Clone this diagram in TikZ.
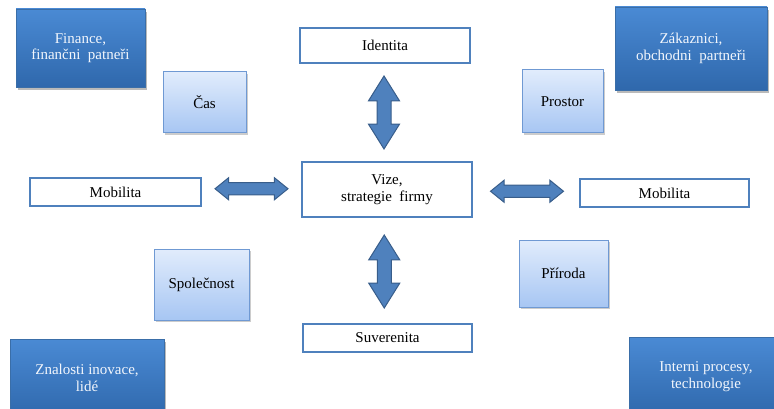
\documentclass[tikz,border=0pt]{standalone}
\usepackage{fontspec}
\setmainfont{Liberation Serif}
\usetikzlibrary{shapes.arrows,shadows,calc}
\definecolor{darkA}{HTML}{4A8AD4}
\definecolor{darkB}{HTML}{2F68AC}
\definecolor{darkE}{HTML}{3A6EA8}
\definecolor{lightA}{HTML}{E1ECFC}
\definecolor{lightB}{HTML}{A7C6F3}
\definecolor{lightE}{HTML}{6F99D3}
\definecolor{frameB}{HTML}{4F81BD}
\definecolor{arrF}{HTML}{4F81BD}
\definecolor{arrE}{HTML}{385D8A}
\definecolor{txtW}{HTML}{F2F6FC}
\begin{document}
\begin{tikzpicture}[x=1pt,y=-1pt,
  every node/.style={font=\rmfamily\fontsize{15}{16.5}\selectfont, align=center, inner sep=0pt},
  darkbox/.style={rectangle, draw=darkE, line width=0.6pt, top color=darkA, bottom color=darkB,
     text=txtW, drop shadow={shadow xshift=2pt, shadow yshift=-3pt, fill=black!45, opacity=0.6}},
  lightbox/.style={rectangle, draw=lightE, line width=1pt, top color=lightA, bottom color=lightB,
     drop shadow={shadow xshift=1.5pt, shadow yshift=-2pt, fill=black!40, opacity=0.5}},
  framebox/.style={rectangle, draw=frameB, line width=2pt, fill=white},
  vfat/.style={double arrow, draw=arrE, fill=arrF, line width=1pt, minimum height=73pt,
     inner xsep=0pt, inner ysep=6.5pt, double arrow head extend=8.5pt, double arrow tip angle=64,
     rotate=90},
  hfat/.style={double arrow, draw=arrE, fill=arrF, line width=1pt, minimum height=73pt,
     inner xsep=0pt, inner ysep=5.5pt, double arrow head extend=5pt, double arrow tip angle=78}
]
\useasboundingbox (0,0) rectangle (774,409);

% dark corner boxes
\node[darkbox, minimum width=129pt, minimum height=78pt] (fin) at (80.5,48) {Finance,\\finančni \ patneři};
\node[darkbox, minimum width=152pt, minimum height=83pt] (zak) at (691,48.5) {Zákaznici,\\obchodni \ partneři};
\node[darkbox, minimum width=154pt, minimum height=78pt] (zna) at (87,378) {Znalosti inovace,\\lidé};
\node[darkbox, minimum width=154pt, minimum height=78pt] (int) at (706,376.5) {Interni procesy,\\technologie};

% light boxes
\node[lightbox, minimum width=83pt, minimum height=61pt] (cas) at (204.5,102.5) {Čas};
\node[lightbox, minimum width=81pt, minimum height=63pt] (pro) at (562.5,101.5) {Prostor};
\node[lightbox, minimum width=95pt, minimum height=71pt] (spo) at (201.5,284.5) {Společnost};
\node[lightbox, minimum width=89pt, minimum height=67pt] (pri) at (563.5,273.5) {Příroda};

% framed boxes
\node[framebox, minimum width=170pt, minimum height=35pt] (ide) at (385,45.5) {Identita};
\node[framebox, minimum width=170pt, minimum height=55pt] (viz) at (387,189.5) {Vize,\\strategie \ firmy};
\node[framebox, minimum width=169pt, minimum height=28pt] (suv) at (387.5,338) {Suverenita};
\node[framebox, minimum width=171pt, minimum height=28pt] (mol) at (115.5,192) {Mobilita};
\node[framebox, minimum width=169pt, minimum height=28pt] (mor) at (664.5,193) {Mobilita};

% fat double arrows between boxes
\node[vfat] (a1) at ($(ide.south)!0.5!(viz.north)+(-2,0)$) {};
\node[vfat] (a2) at ($(viz.south)!0.5!(suv.north)+(-3,1)$) {};
\node[hfat] (a3) at ($(mol.east)!0.5!(viz.west)+(0,-2)$) {};
\node[hfat] (a4) at ($(viz.east)!0.5!(mor.west)+(1,0)$) {};
\end{tikzpicture}
\end{document}
